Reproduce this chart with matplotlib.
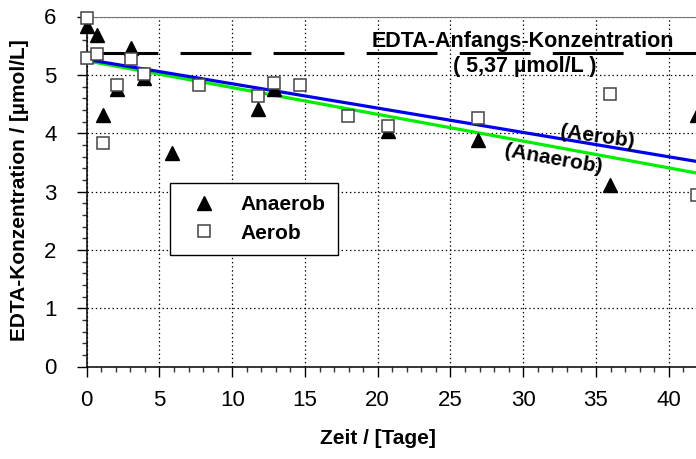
import matplotlib
matplotlib.use("Agg")
import matplotlib.pyplot as plt
from matplotlib.ticker import MultipleLocator

plt.rcParams["font.family"] = ["Liberation Sans", "DejaVu Sans"]
plt.rcParams["lines.scale_dashes"] = False

# ---------------------------------------------------------------------------
# Data: EDTA concentration [µmol/L] over time [days]
# ---------------------------------------------------------------------------
anaerob_t = [0.0, 0.69, 1.14, 2.06, 3.05, 3.96, 5.84, 11.75, 12.9, 20.73, 26.91, 35.97, 41.95]
anaerob_c = [5.83, 5.68, 4.32, 4.75, 5.46, 4.94, 3.66, 4.42, 4.75, 4.03, 3.89, 3.12, 4.32]

aerob_t = [0.0, 0.0, 0.69, 1.14, 2.06, 3.05, 3.96, 7.74, 11.75, 12.9, 14.66, 17.94,
           20.73, 26.91, 35.97, 41.95]
aerob_c = [5.98, 5.29, 5.36, 3.83, 4.83, 5.27, 5.02, 4.82, 4.64, 4.86, 4.83, 4.29,
           4.12, 4.26, 4.67, 2.94]

# linear regression lines (end points)
fit_t = [0.45, 42.0]
fit_aerob = [5.245, 3.512]
fit_anaerob = [5.22, 3.313]

start_conc = 5.37   # initial EDTA concentration
start_t = [0.0, 42.0]

fig = plt.figure(figsize=(6.96, 4.59), dpi=100)
ax = fig.add_axes([86.7 / 696, 1 - 366.5 / 459, 1 - 86.7 / 696, (366.5 - 16.5) / 459])

# initial concentration (long dashes)
ax.plot(start_t, [start_conc, start_conc], color="black", lw=2.2,
        dashes=(51, 16), solid_capstyle="butt", dash_capstyle="butt", zorder=2)

# regression lines
ax.plot(fit_t, fit_anaerob, color="#00ee00", lw=2.3, zorder=3)
ax.plot(fit_t, fit_aerob, color="#0000ee", lw=2.3, zorder=3)

# measurements
ax.plot(anaerob_t, anaerob_c, linestyle="none", marker="^", ms=10, mfc="black",
        mec="black", clip_on=False, zorder=4, label="Anaerob")
ax.plot(aerob_t, aerob_c, linestyle="none", marker="s", ms=8.6, mfc="white",
        mec="#444444", mew=1.1, clip_on=False, zorder=5, label="Aerob")

ax.set_xlim(0, (696 - 86.7) / 14.55)
ax.set_ylim(0, 6)
ax.xaxis.set_major_locator(MultipleLocator(5))
ax.xaxis.set_minor_locator(MultipleLocator(1))
ax.yaxis.set_major_locator(MultipleLocator(1))
ax.yaxis.set_minor_locator(MultipleLocator(0.2))
ax.tick_params(axis="both", which="major", direction="out", length=7.2, width=1,
               labelsize=16, color="black")
ax.tick_params(axis="both", which="minor", direction="out", length=3.6, width=1,
               color="#333333")
ax.tick_params(axis="x", which="major", pad=10)
ax.tick_params(axis="y", which="major", pad=14.5)

ax.grid(True, which="major", color="black", linestyle=(0, (1, 2)), linewidth=0.9)
ax.spines["right"].set_visible(False)
ax.spines["top"].set_color("#777777")
for s in ("left", "bottom"):
    ax.spines[s].set_linewidth(1.1)

# annotations
ax.text(30.0, 5.57, "EDTA-Anfangs-Konzentration", fontsize=15.5, fontweight="bold",
        ha="center", va="center", zorder=6)
ax.text(30.13, 5.14, "( 5,37 µmol/L )", fontsize=15.5, fontweight="bold",
        ha="center", va="center", zorder=6)
ax.text(35.12, 3.945, "(Aerob)", fontsize=15, fontweight="bold", rotation=-8,
        ha="center", va="center", rotation_mode="anchor", zorder=6)
ax.text(32.07, 3.557, "(Anaerob)", fontsize=15, fontweight="bold", rotation=-10,
        ha="center", va="center", rotation_mode="anchor", zorder=6)

leg = ax.legend(loc="upper left", bbox_to_anchor=(170 / 696, 1 - 182.7 / 459),
                bbox_transform=fig.transFigure, fancybox=False, framealpha=1,
                edgecolor="black", prop={"size": 15, "weight": "bold"},
                borderpad=0.6, handlelength=2.1, handletextpad=0.68,
                labelspacing=0.45, borderaxespad=0)
leg.get_frame().set_linewidth(1.0)

fig.text(20 / 696, 1 - 190 / 459, "EDTA-Konzentration / [µmol/L]", fontsize=15,
         fontweight="bold", rotation=90, ha="center", va="center")
fig.text(378 / 696, 1 - 438 / 459, "Zeit / [Tage]", fontsize=15,
         fontweight="bold", ha="center", va="center")

fig.savefig("out.png", dpi=100)
